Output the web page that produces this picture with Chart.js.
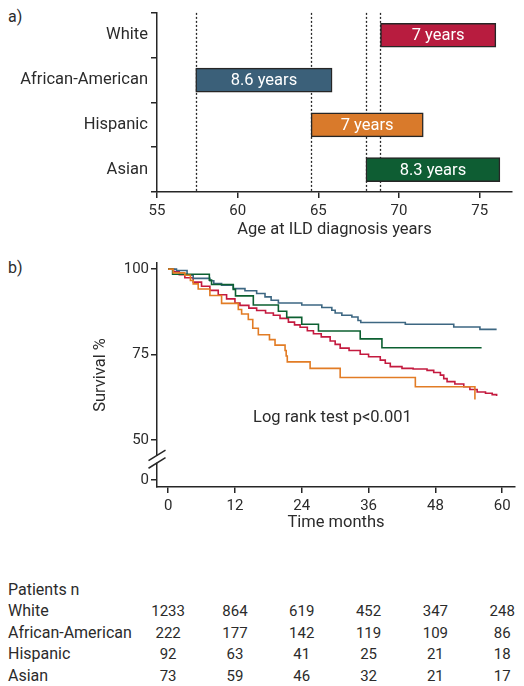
<!DOCTYPE html>
<html>
<head>
<meta charset="utf-8">
<script src="https://cdn.jsdelivr.net/npm/chart.js@4.4.1/dist/chart.umd.min.js"></script>
<style>
  body { margin: 0; background: #fff; font-family: Roboto, "Liberation Sans", sans-serif; color: #2b2b2b; }
  #page { position: relative; width: 524px; height: 686px; overflow: hidden; }
  canvas { position: absolute; left: 0; }
  .panel { position: absolute; left: 8px; font-size: 16px; line-height: 20px; }
  .cell { position: absolute; font-size: 16px; line-height: 20px; white-space: nowrap; }
  .num { transform: translateX(-50%); font-size: 15px; }
</style>
</head>
<body>
<div id="page">
  <div class="panel" style="top:7px">a)</div>
  <canvas id="ageChart" width="524" height="240" style="top:0"></canvas>
  <div class="panel" style="top:258px">b)</div>
  <canvas id="survChart" width="524" height="290" style="top:250px"></canvas>
  <div id="riskTable"></div>
</div>
<script>
// panel a: age at diagnosis
const groups = ["White", "African-American", "Hispanic", "Asian"];
const groupColors = ["#b81c3f", "#3b6079", "#d97a2b", "#0e5d33"];
const ageStart = [68.85, 57.4, 64.55, 67.95];
const ageEnd = [76.0, 65.85, 71.5, 76.25];
const spanLabels = ["7 years", "8.6 years", "7 years", "8.3 years"];
const ageTicks = [55, 60, 65, 70, 75];

// panel b: survival curves (months, %)
const whiteMonths = [0, 1, 2, 3, 4.5, 6, 7.5, 9, 10.5, 12, 12.9, 14.5, 15.9, 17.5, 18.9, 20.1, 21.6, 22.7, 23.7, 25, 26.1, 27.5, 29.1, 30, 30.9, 32.5, 34.5, 36, 38.1, 39, 39.9, 42, 44, 46.5, 47.7, 48.9, 49.5, 50.1, 51.5, 53.1, 54.2, 55.5, 57, 58.2, 59];
const whiteSurv = [100, 99.2, 98.4, 97.5, 96.2, 95, 93.8, 92.5, 91.3, 90.1, 89.4, 88.6, 87.9, 87.2, 86.5, 85.6, 84.5, 83.7, 83, 82, 81.1, 80.2, 79, 78, 76.9, 76.2, 75.1, 74.4, 73.4, 72.5, 71.5, 71, 70.8, 70.4, 69.8, 69, 68, 67.1, 66.4, 65.6, 64.8, 64.1, 63.7, 63.3, 62.9];
const aaMonths = [0, 1.5, 3.4, 4.5, 7.5, 8.2, 9.6, 11.7, 13.8, 15.9, 17.4, 18.5, 19.8, 24, 27.6, 29.4, 30, 31.2, 33, 34.1, 34.6, 42.6, 51.3, 56, 59];
const aaSurv = [100, 99.6, 98.2, 97.3, 96.6, 95.8, 95.3, 94.3, 93.7, 92.9, 91.9, 90.9, 90.1, 89.5, 88.8, 88, 87.2, 86.5, 86, 85, 84.4, 83.9, 83.1, 82.4, 82.4];
const hispMonths = [0, 0.9, 3, 4, 4.5, 5.4, 7.5, 9.6, 12.6, 13.2, 14.4, 15.2, 16.2, 18.2, 19.2, 21, 21.2, 21.4, 25.5, 30.9, 44.4, 55.1, 55.1];
const hispSurv = [100, 98.9, 98.2, 96.7, 95.7, 94.2, 92.3, 90, 88.2, 86.9, 85.3, 82.7, 80.8, 79.4, 77.8, 76.2, 74.6, 72.9, 71, 68.3, 65.6, 65.6, 61.9];
const asianMonths = [0, 0.8, 7.4, 7.8, 11.7, 12.1, 15.3, 19.8, 21.3, 24, 27, 34.5, 38.4, 56.3];
const asianSurv = [100, 98.5, 96.8, 95.5, 94.1, 92.2, 89.5, 87.7, 85.9, 83.9, 81.9, 79.6, 77.0, 77.0];
const lineColors = ["#c41a3f", "#3d6782", "#e27c25", "#0c6031"];
const monthTicks = [0, 12, 24, 36, 48, 60];
const survivalTicks = [0, 50, 75, 100];
const yBreakAt = 38.3; // where "0" sits below the axis break

// patients at risk
const riskWhite = [1233, 864, 619, 452, 347, 248];
const riskAfricanAmerican = [222, 177, 142, 119, 109, 86];
const riskHispanic = [92, 63, 41, 25, 21, 18];
const riskAsian = [73, 59, 46, 32, 21, 17];

const ink = "#262626";
const fontFamily = "Roboto, 'Liberation Sans', sans-serif";
Chart.defaults.font.family = fontFamily;
Chart.defaults.color = "#2b2b2b";

const refLines = {
  id: "refLines",
  beforeDatasetsDraw(chart) {
    const { ctx, chartArea, scales: { x } } = chart;
    ctx.save();
    ctx.setLineDash([2, 2]);
    ctx.lineWidth = 1.3;
    ctx.strokeStyle = ink;
    ageStart.forEach(v => {
      const px = Math.round(x.getPixelForValue(v)) + 0.5;
      ctx.beginPath();
      ctx.moveTo(px, chartArea.top);
      ctx.lineTo(px, chartArea.bottom);
      ctx.stroke();
    });
    ctx.restore();
  }
};

const barText = {
  id: "barText",
  afterDatasetsDraw(chart) {
    const { ctx } = chart;
    ctx.save();
    ctx.fillStyle = "#fff";
    ctx.font = "16.5px " + fontFamily;
    ctx.textAlign = "center";
    ctx.textBaseline = "middle";
    chart.getDatasetMeta(0).data.forEach((bar, i) => {
      const c = bar.getCenterPoint();
      ctx.fillText(spanLabels[i], c.x, c.y + 1);
    });
    ctx.restore();
  }
};

new Chart(document.getElementById("ageChart"), {
  type: "bar",
  data: {
    labels: groups,
    datasets: [{
      data: groups.map((g, i) => [ageStart[i], ageEnd[i]]),
      backgroundColor: groupColors,
      borderColor: ink,
      borderWidth: 1.5,
      borderSkipped: false,
      barThickness: 24
    }]
  },
  options: {
    indexAxis: "y",
    responsive: false,
    animation: false,
    devicePixelRatio: 1,
    layout: { padding: { top: 10, right: 12, left: 0, bottom: 0 } },
    plugins: { legend: { display: false }, tooltip: { enabled: false } },
    scales: {
      x: {
        min: 55, max: 77,
        afterBuildTicks: s => { s.ticks = ageTicks.map(v => ({ value: v })); },
        grid: { drawOnChartArea: false, tickLength: 6, color: ink, lineWidth: 1.5 },
        border: { color: ink, width: 1.5 },
        ticks: { padding: 4, font: { size: 15 }, maxRotation: 0 },
        title: { display: true, text: "Age at ILD diagnosis years", font: { size: 16.5 }, padding: { top: 0, bottom: 0 } },
        afterFit: s => { s.height = 48; }
      },
      y: {
        grid: { drawOnChartArea: false, tickLength: 6, color: ink, lineWidth: 1.5 },
        border: { color: ink, width: 1.5 },
        ticks: { padding: 3, font: { size: 16.5 } },
        afterFit: s => { s.width = 157; }
      }
    }
  },
  plugins: [refLines, barText]
});

const axisBreak = {
  id: "axisBreak",
  afterDraw(chart) {
    const { ctx, chartArea, scales: { y } } = chart;
    const ax = chartArea.left;
    const yc = (y.getPixelForValue(50) + y.getPixelForValue(yBreakAt)) / 2 - 1;
    ctx.save();
    ctx.fillStyle = "#fff";
    ctx.fillRect(ax - 3, yc - 3.5, 6, 7);
    ctx.strokeStyle = ink;
    ctx.lineWidth = 1.5;
    [-3.8, 3.8].forEach(off => {
      ctx.beginPath();
      ctx.moveTo(ax - 8.5, yc + off + 5.3);
      ctx.lineTo(ax + 8.5, yc + off - 5.3);
      ctx.stroke();
    });
    ctx.restore();
  }
};

const logRank = {
  id: "logRank",
  afterDatasetsDraw(chart) {
    const { ctx, scales: { x, y } } = chart;
    ctx.save();
    ctx.fillStyle = "#2b2b2b";
    ctx.font = "16.5px " + fontFamily;
    ctx.textAlign = "center";
    ctx.textBaseline = "middle";
    ctx.fillText("Log rank test p<0.001", x.getPixelForValue(29.5), y.getPixelForValue(56.4));
    ctx.restore();
  }
};

const toPoints = (ms, ss) => ms.map((m, i) => ({ x: m, y: ss[i] }));
// Kaplan-Meier: hold the previous value until the next event, then drop
const curve = (label, ms, ss, color) => ({
  label, data: toPoints(ms, ss), borderColor: color, borderWidth: 1.6,
  stepped: "before", pointRadius: 0, fill: false
});

const survChart = new Chart(document.getElementById("survChart"), {
  type: "line",
  data: {
    datasets: [
      curve("Hispanic", hispMonths, hispSurv, lineColors[2]),
      curve("Asian", asianMonths, asianSurv, lineColors[3]),
      curve("African-American", aaMonths, aaSurv, lineColors[1]),
      curve("White", whiteMonths, whiteSurv, lineColors[0])
    ]
  },
  options: {
    responsive: false,
    animation: false,
    devicePixelRatio: 1,
    layout: { padding: { top: 13, right: 9, left: 0, bottom: 0 } },
    plugins: { legend: { display: false }, tooltip: { enabled: false } },
    scales: {
      x: {
        type: "linear", min: -2, max: 62.3,
        afterBuildTicks: s => { s.ticks = monthTicks.map(v => ({ value: v })); },
        grid: { drawOnChartArea: false, tickLength: 6, color: ink, lineWidth: 1.5 },
        border: { color: ink, width: 1.5 },
        ticks: { padding: 4, font: { size: 15 }, maxRotation: 0 },
        title: { display: true, text: "Time months", font: { size: 16.5 }, padding: { top: 0, bottom: 7 } },
        afterFit: s => { s.height = 53; }
      },
      y: {
        min: 36.3, max: 101.8,
        afterBuildTicks: s => { s.ticks = survivalTicks.map(v => ({ value: v === 0 ? yBreakAt : v })); },
        grid: { drawOnChartArea: false, tickLength: 6, color: ink, lineWidth: 1.5 },
        border: { color: ink, width: 1.5 },
        ticks: { padding: 2, font: { size: 15 }, callback: (v, i) => survivalTicks[i] },
        title: { display: true, text: "Survival %", font: { size: 16.5 }, padding: { top: 91, bottom: 0 } },
        afterFit: s => { s.width = 157; }
      }
    }
  },
  plugins: [axisBreak, logRank]
});

// numbers-at-risk table under the time axis
const table = document.getElementById("riskTable");
const rows = [
  ["White", riskWhite],
  ["African-American", riskAfricanAmerican],
  ["Hispanic", riskHispanic],
  ["Asian", riskAsian]
];
const addCell = (text, left, top, cls) => {
  const d = document.createElement("div");
  d.className = "cell " + cls;
  d.textContent = text;
  d.style.left = left + "px";
  d.style.top = top + "px";
  table.appendChild(d);
};
addCell("Patients n", 8, 580, "");
rows.forEach(([name, vals], r) => {
  const top = 601 + r * 21.5;
  addCell(name, 8, top, "");
  vals.forEach((v, i) => addCell(v, survChart.scales.x.getPixelForValue(monthTicks[i]), top, "num"));
});
</script>
</body>
</html>
